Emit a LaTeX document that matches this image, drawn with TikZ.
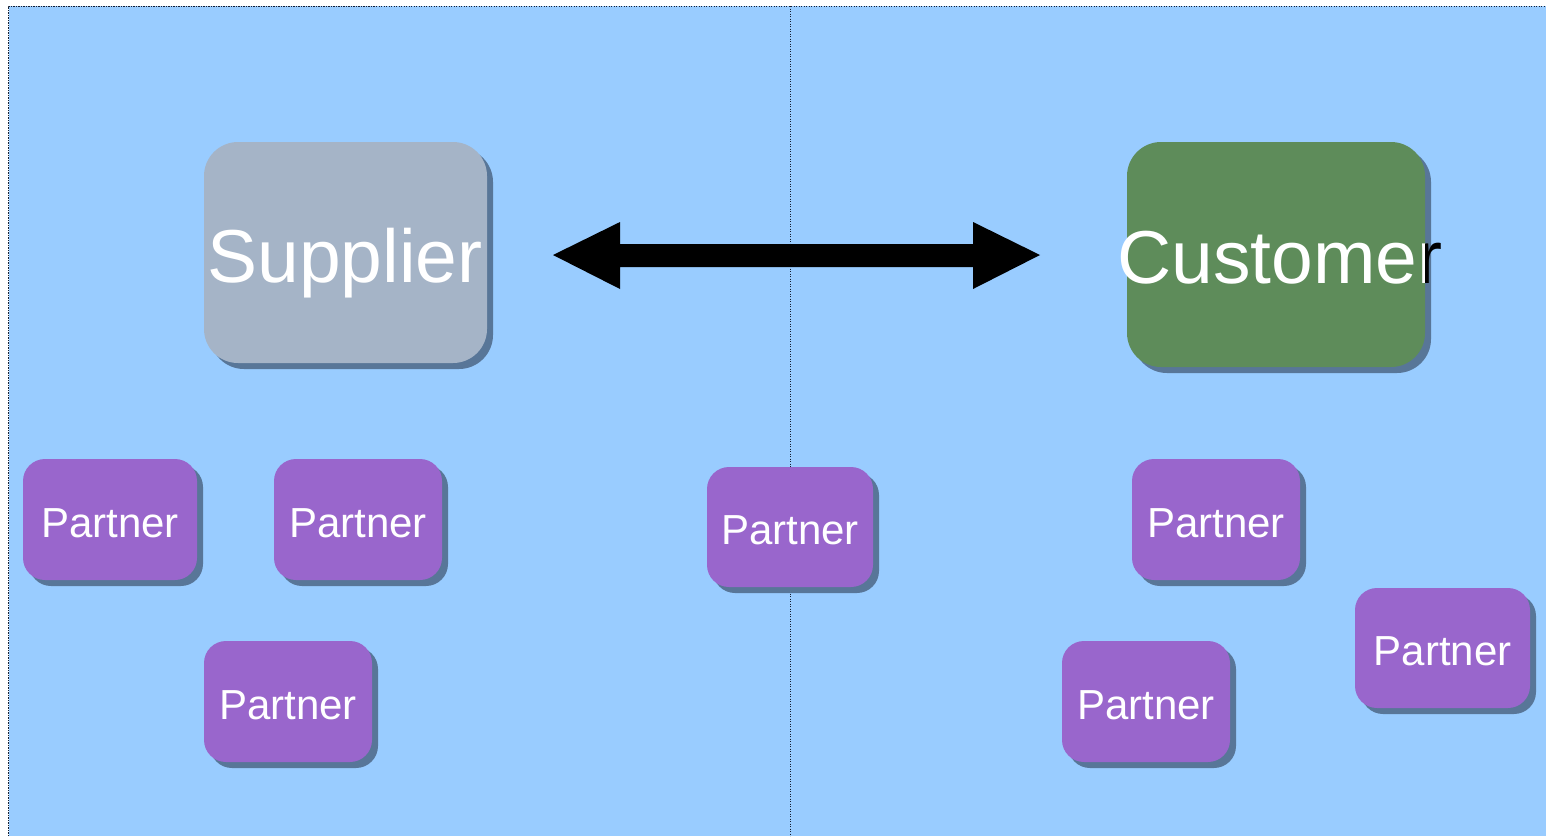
\documentclass[tikz,border=0pt]{standalone}
\usepackage{fontspec}
\setmainfont{Liberation Sans}
\usetikzlibrary{shadows}
\definecolor{bgblue}{RGB}{153,204,255}
\definecolor{supgray}{RGB}{165,180,199}
\definecolor{custgreen}{RGB}{94,140,90}
\definecolor{partpurple}{RGB}{153,102,204}
\definecolor{shadowc}{RGB}{88,118,152}
\definecolor{dotc}{RGB}{20,30,50}
\begin{document}
\begin{tikzpicture}[x=1pt,y=-1pt,
  boxshadow/.style={drop shadow={shadow xshift=6pt,shadow yshift=-6pt,fill=shadowc,opacity=1}},
  bigbox/.style={rectangle,rounded corners=34pt,inner sep=0pt,boxshadow},
  bigtext/.style={inner sep=0pt,anchor=base,font=\fontsize{75}{80}\selectfont},
  partner/.style={rectangle,rounded corners=22pt,inner sep=0pt,fill=partpurple,
    text=white,minimum height=121pt,minimum width=168pt,boxshadow,
    text height=35pt,text depth=0pt,
    font=\fontsize{42}{50}\selectfont},
  dotline/.style={draw=dotc,line width=1pt,dash pattern=on 1.2pt off 1.3pt}
]
\useasboundingbox (0,0) rectangle (1546,836);
\fill[white] (0,0) rectangle (1546,836);
\fill[bgblue] (8.5,6) rectangle (1546,836);
\draw[dotline] (8.5,836) -- (8.5,6) -- (1546,6);
\draw[dotline] (790,6) -- (790,836);
\coordinate (pagetop) at (0,0);
\coordinate (pagebot) at (1546,836);

% big boxes
\node[bigbox,fill=supgray,minimum width=283pt,minimum height=221pt] (sup) at (345.5,252.5) {};
\node[bigbox,fill=custgreen,minimum width=298pt,minimum height=225pt] (cust) at (1276,254.5) {};

% labels: white over the box, black where they run past its right edge
\begin{scope}
  \clip (pagetop) rectangle (sup.east |- pagebot);
  \node[bigtext,text=white] (suptxt) at (345,282) {Supplier};
\end{scope}
\begin{scope}
  \clip (sup.east |- pagetop) rectangle (pagebot);
  \node[bigtext,text=black] at (345,282) {Supplier};
\end{scope}
\begin{scope}
  \clip (pagetop) rectangle (cust.east |- pagebot);
  \node[bigtext,text=white] (custtxt) at (1280,283) {Customer};
\end{scope}
\begin{scope}
  \clip (cust.east |- pagetop) rectangle (pagebot);
  \node[bigtext,text=black] at (1280,283) {Customer};
\end{scope}

% double arrow
\coordinate (al) at (553,255);
\coordinate (ar) at (1040,255);
\fill[black] (al) -- ++(67,-33) -- ++(0,22) -- ++(353,0) -- ++(0,-22) -- (ar)
  -- ++(-67,34) -- ++(0,-22) -- ++(-353,0) -- ++(0,22) -- cycle;

% partners
\node[partner,minimum width=174pt] (p1) at (110,519.5) {Partner};
\node[partner] (p2) at (358,519.5) {Partner};
\node[partner] (p3) at (288,701.5) {Partner};
\node[partner,minimum width=166pt,minimum height=120pt] (pc) at (790,527) {Partner};
\node[partner] (p4) at (1216,519.5) {Partner};
\node[partner,minimum width=175pt,minimum height=120pt] (p5) at (1442.5,648) {Partner};
\node[partner] (p6) at (1146,701.5) {Partner};
\end{tikzpicture}
\end{document}
